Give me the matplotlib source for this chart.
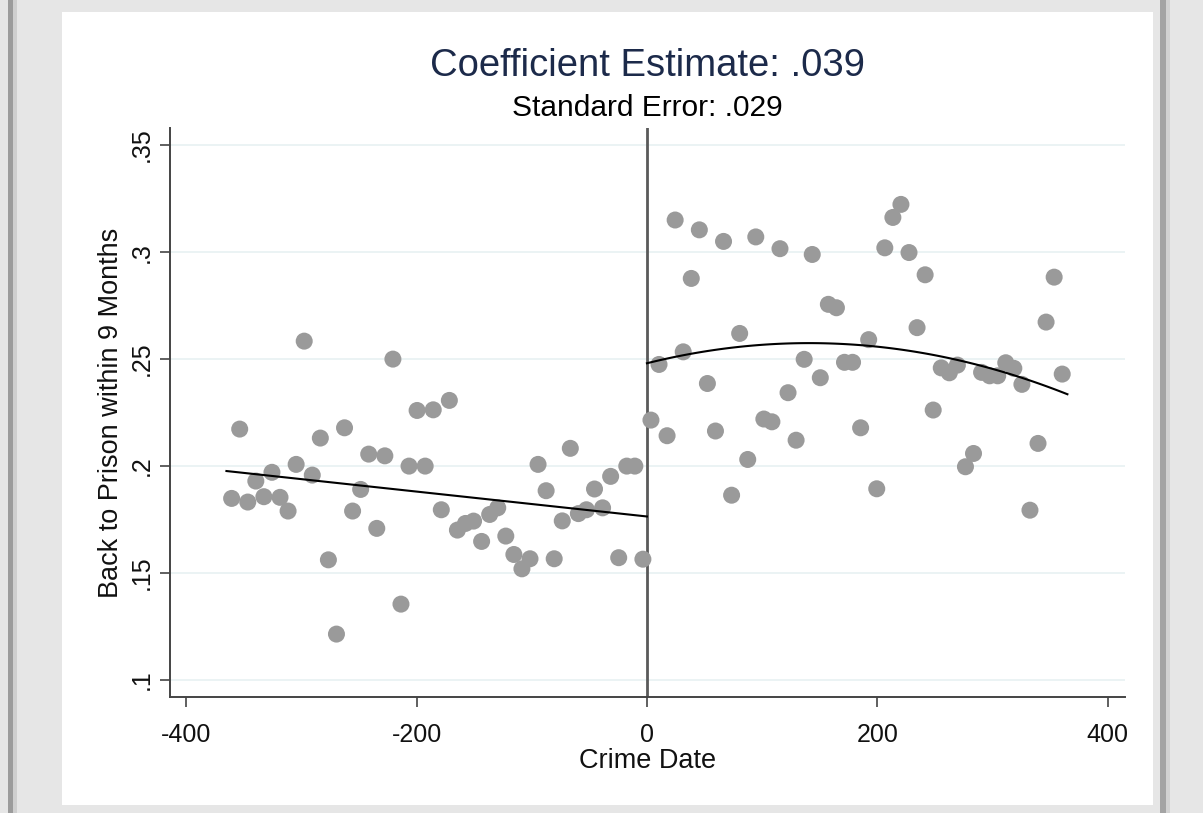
import numpy as np
import matplotlib
matplotlib.use("Agg")
import matplotlib.pyplot as plt
from matplotlib.patches import Rectangle

plt.rcParams['font.family'] = ['Liberation Sans', 'DejaVu Sans']
plt.rcParams['axes.unicode_minus'] = False

# weekly bins before the cutoff
left_x = [-360.5, -353.5, -346.5, -339.5, -332.5, -325.5, -318.5, -311.5, -304.5, -297.5,
          -290.5, -283.5, -276.5, -269.5, -262.5, -255.5, -248.5, -241.5, -234.5, -227.5,
          -220.5, -213.5, -206.5, -199.5, -192.5, -185.5, -178.5, -171.5, -164.5, -157.5,
          -150.5, -143.5, -136.5, -129.5, -122.5, -115.5, -108.5, -101.5, -94.5, -87.5,
          -80.5, -73.5, -66.5, -59.5, -52.5, -45.5, -38.5, -31.5, -24.5, -17.5,
          -10.5, -3.5]
left_y = [.1849, .2173, .1832, .1930, .1857, .1971, .1854, .1790, .2008, .2584,
          .1958, .2131, .1562, .1215, .2179, .1790, .1891, .2056, .1709, .2048,
          .2500, .1355, .2000, .2260, .2000, .2263, .1796, .2307, .1701, .1732,
          .1743, .1648, .1774, .1805, .1673, .1587, .1520, .1567, .2008, .1885,
          .1567, .1744, .2083, .1778, .1796, .1893, .1805, .1952, .1572, .2000,
          .2000, .1565]

# weekly bins after the cutoff
right_x = [3.5, 10.5, 17.5, 24.5, 31.5, 38.5, 45.5, 52.5, 59.5, 66.5,
           73.5, 80.5, 87.5, 94.5, 101.5, 108.5, 115.5, 122.5, 129.5, 136.5,
           143.5, 150.5, 157.5, 164.5, 171.5, 178.5, 185.5, 192.5, 199.5, 206.5,
           213.5, 220.5, 227.5, 234.5, 241.5, 248.5, 255.5, 262.5, 269.5, 276.5,
           283.5, 290.5, 297.5, 304.5, 311.5, 318.5, 325.5, 332.5, 339.5, 346.5,
           353.5, 360.5]
right_y = [.2215, .2475, .2142, .3150, .2534, .2877, .3104, .2386, .2164, .3050,
           .1864, .2620, .2031, .3071, .2220, .2207, .3016, .2343, .2121, .2499,
           .2989, .2413, .2756, .2740, .2485, .2485, .2179, .2591, .1894, .3020,
           .3162, .3223, .2998, .2647, .2894, .2262, .2459, .2436, .2472, .1997,
           .2059, .2438, .2422, .2422, .2483, .2457, .2382, .1794, .2106, .2673,
           .2883, .2430]

x_ticks = [-400, -200, 0, 200, 400]
y_ticks = [.1, .15, .2, .25, .3, .35]
y_tick_labels = ['.1', '.15', '.2', '.25', '.3', '.35']

title = 'Coefficient Estimate: .039'
subtitle = 'Standard Error: .029'

W, H = 1203, 813
fig = plt.figure(figsize=(W / 100, H / 100), dpi=100)
fig.patch.set_facecolor('#e6e6e6')

# white page with dark side strips
fig.patches.append(Rectangle((62 / W, 1 - 805 / H), (1153 - 62) / W, (805 - 12) / H,
                             transform=fig.transFigure, facecolor='white',
                             edgecolor='none', zorder=-10))
fig.patches.append(Rectangle((8 / W, 0), 5 / W, 1, transform=fig.transFigure,
                             facecolor='#9c9c9c', edgecolor='none', zorder=-10))
fig.patches.append(Rectangle((13 / W, 0), 4 / W, 1, transform=fig.transFigure,
                             facecolor='#cfcfcf', edgecolor='none', zorder=-10))
fig.patches.append(Rectangle((1160 / W, 0), 6 / W, 1, transform=fig.transFigure,
                             facecolor='#a4a4a4', edgecolor='none', zorder=-10))
fig.patches.append(Rectangle((1166 / W, 0), 4 / W, 1, transform=fig.transFigure,
                             facecolor='#d2d2d2', edgecolor='none', zorder=-10))

ax = fig.add_axes([170 / W, 1 - 697 / H, (1125 - 170) / W, (697 - 128) / H])
ax.set_facecolor('white')

ax.scatter(left_x, left_y, s=150, color='#9a9a9a', edgecolors='none', zorder=3)
ax.scatter(right_x, right_y, s=150, color='#9a9a9a', edgecolors='none', zorder=3)

# linear fit on the left, quadratic fit on the right
lx = np.linspace(-365, 0, 100)
ax.plot(lx, np.polyval(np.polyfit(left_x, left_y, 1), lx), color='black', lw=1.5, zorder=4)
rx = np.linspace(0, 365, 100)
ax.plot(rx, np.polyval(np.polyfit(right_x, right_y, 2), rx), color='black', lw=1.5, zorder=4)

ax.axvline(0, color='#5a5a5a', lw=2, zorder=2)

ax.set_xlim(-414, 415)
ax.set_ylim(0.0921, 0.358)
ax.set_xticks(x_ticks)
ax.set_yticks(y_ticks)
ax.set_yticklabels(y_tick_labels, rotation=90, va='center')
ax.tick_params(axis='both', labelsize=18, length=7.5, width=1.2, color='#444444', labelcolor='#111111')
ax.tick_params(axis='x', pad=11)
ax.tick_params(axis='y', pad=4)

ax.yaxis.grid(True, color='#e8f1f2', lw=1.2, zorder=0)
ax.set_axisbelow(True)
for side in ['top', 'right']:
    ax.spines[side].set_visible(False)
for side in ['left', 'bottom']:
    ax.spines[side].set_color('#444444')
    ax.spines[side].set_linewidth(1.4)

ax.set_xlabel('Crime Date', fontsize=19.5, color='#111111', labelpad=1)
ax.set_ylabel('Back to Prison within 9 Months', fontsize=19.5, color='#111111', labelpad=4)

fig.text(647 / W, 1 - 66 / H, title, fontsize=27.5, color='#1c2a4a', ha='center', va='center')
fig.text(647 / W, 1 - 108 / H, subtitle, fontsize=21.5, color='black', ha='center', va='center')

fig.savefig('out.png', dpi=100, facecolor=fig.get_facecolor())
